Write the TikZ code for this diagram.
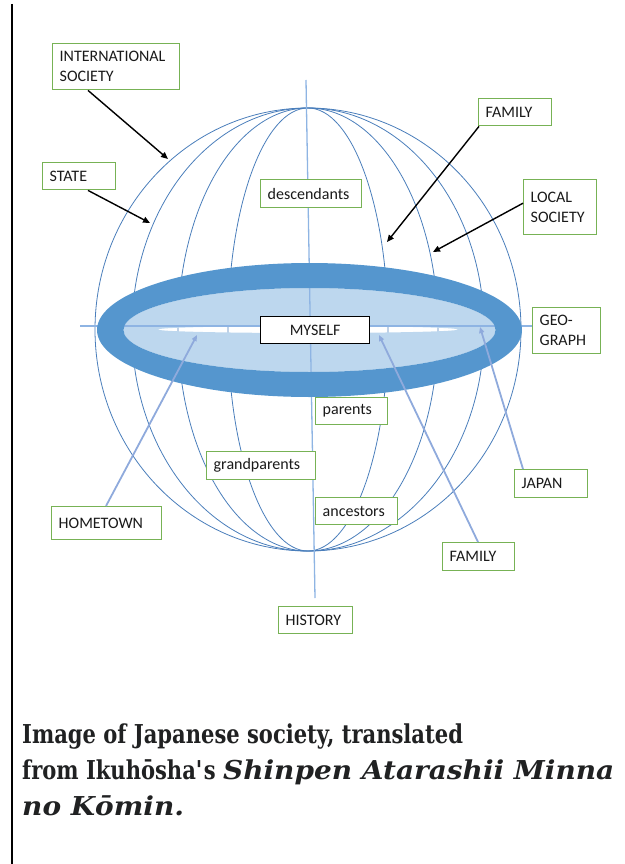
\documentclass[tikz,border=0pt]{standalone}
\usepackage{fontspec}
\setmainfont{Carlito}
\newfontfamily\capup{DejaVu Serif}[FakeStretch=0.81]
\newfontfamily\capit{DejaVu Serif}[FakeStretch=1.075]
\usetikzlibrary{arrows.meta,calc}
\definecolor{gbox}{HTML}{77B255}
\definecolor{ringc}{HTML}{5596CE}
\definecolor{ringin}{HTML}{BDD7EE}
\definecolor{merid}{HTML}{4A7EBB}
\definecolor{axisc}{HTML}{8EB4E3}
\definecolor{parrow}{HTML}{8FAADC}
\definecolor{txt}{HTML}{1A1A1A}
\definecolor{captxt}{HTML}{202122}
\begin{document}
\begin{tikzpicture}[x=1pt,y=-1pt,
  lab/.style={draw=gbox, line width=1.4pt, fill=white, anchor=north west, align=left,
    inner xsep=7pt, inner ysep=0pt, font=\fontsize{16}{20}\selectfont, text=txt},
  selfbox/.style={draw=black, line width=1.2pt, fill=white, anchor=north west, align=center,
    inner sep=0pt, minimum width=109pt, minimum height=27pt, font=\fontsize{16}{20}\selectfont, text=txt},
  merline/.style={draw=merid, line width=0.8pt},
  axline/.style={draw=axisc, line width=1.3pt},
  blackarrow/.style={draw=black, line width=1.4pt, -{Triangle[length=7pt,width=6pt]}},
  bluearrow/.style={draw=parrow, line width=1.8pt, -{Triangle[length=6pt,width=5pt]}},
  captext/.style={inner sep=0pt, anchor=base west, text=captxt, font=\capup\bfseries\fontsize{26}{30}\selectfont}
]
\useasboundingbox (0,0) rectangle (624,864);
% left rule
\draw[line width=2.5pt] (12,4) -- (12,864);

% meridians
\foreach \r in {80,130,176,213} {
  \draw[merline] (308,329.5) ellipse [x radius=\r pt, y radius=221.5pt];
}
% light inner disc with slit
\fill[ringin, even odd rule] (309.5,330) ellipse [x radius=186pt, y radius=42pt]
   (308,329.5) ellipse [x radius=150pt, y radius=3.5pt];
% axes
\draw[axline] (306,80) -- (315,598);
\draw[axline] (80,326) -- (533,326);
% dark ring
\fill[ringc, even odd rule] (309.5,330) ellipse [x radius=212.5pt, y radius=67pt]
   (309.5,330) ellipse [x radius=186pt, y radius=42pt];

% boxes
\node[lab, text width=113pt, minimum height=46pt] (intl) at (52,43) {INTERNATIONAL\\SOCIETY};
\node[lab, text width=59pt, minimum height=27pt] (state) at (42,162) {STATE};
\node[lab, text width=87pt, minimum height=28pt] (desc) at (260,179) {descendants};
\node[lab, text width=59pt, minimum height=27pt] (famt) at (478,98) {FAMILY};
\node[lab, text width=59pt, minimum height=55pt] (local) at (523,179) {LOCAL\\\mbox{SOCIETY}};
\node[lab, text width=54pt, minimum height=46pt] (geo) at (532,307) {GEO-\\GRAPH};
\node[selfbox] (myself) at (260,316) {MYSELF};
\node[lab, text width=58pt, minimum height=27pt] (parents) at (315,397) {parents};
\node[lab, text width=95pt, minimum height=28pt] (grand) at (206,451) {\mbox{grandparents}};
\node[lab, text width=68pt, minimum height=27pt] (anc) at (315,497) {\mbox{ancestors}};
\node[lab, text width=96pt, minimum height=33pt] (home) at (51,506) {HOMETOWN};
\node[lab, text width=59pt, minimum height=28pt] (japan) at (514,469) {JAPAN};
\node[lab, text width=58pt, minimum height=28pt] (famb) at (442,542) {FAMILY};
\node[lab, text width=60pt, minimum height=27pt] (hist) at (278,606) {HISTORY};

% arrow tips
\coordinate (tIntl) at (168,159);
\coordinate (tState) at (150,223);
\coordinate (tFamt) at (387,242);
\coordinate (tLocal) at (433,252);
\coordinate (tHome) at (197,335);
\coordinate (tFamb) at (379,335);
\coordinate (tJapan) at (480,327);

\draw[blackarrow] ($(intl.south west)+(36,0)$) -- (tIntl);
\draw[blackarrow] ($(state.south west)+(46,0)$) -- (tState);
\draw[blackarrow] ($(famt.south west)+(1,0)$) -- (tFamt);
\draw[blackarrow] ($(local.west)+(0,-4)$) -- (tLocal);
\draw[bluearrow] ($(home.north west)+(55,0)$) -- (tHome);
\draw[bluearrow] ($(famb.north west)+(36,0)$) -- (tFamb);
\draw[bluearrow] ($(japan.north west)+(9,0)$) -- (tJapan);

% caption
\node[captext] (c1) at (22,743) {Image of Japanese society, translated};
\node[captext] (c2) at (22,779) {from Ikuhōsha\textquotesingle s {\capit\bfseries\itshape Shinpen Atarashii Minna}};
\node[captext] (c3) at (22,815) {{\capit\bfseries\itshape no Kōmin.}};
\end{tikzpicture}
\end{document}
